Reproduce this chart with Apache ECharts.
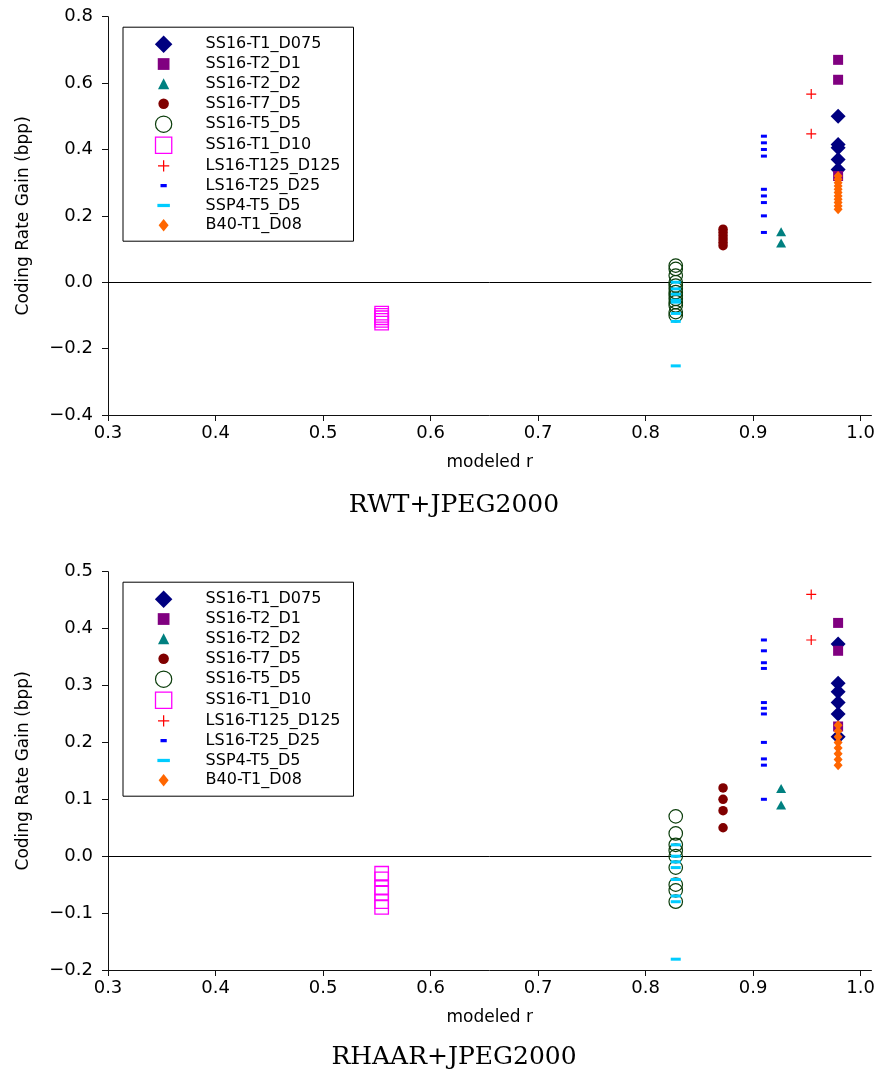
<!DOCTYPE html>
<html>
<head>
<meta charset="utf-8">
<script src="https://cdn.jsdelivr.net/npm/echarts@6/dist/echarts.min.js"></script>
<style>
html,body{margin:0;padding:0;background:#fff;}
#chart{width:878px;height:1073px;}
</style>
</head>
<body>
<div id="chart"></div>
<script>
// ---------- DATA ----------
const seriesNames = ['SS16-T1_D075','SS16-T2_D1','SS16-T2_D2','SS16-T7_D5','SS16-T5_D5',
                     'SS16-T1_D10','LS16-T125_D125','LS16-T25_D25','SSP4-T5_D5','B40-T1_D08'];
// modeled r (x position) of each configuration
const modeledR = [0.979, 0.979, 0.926, 0.872, 0.828, 0.5545, 0.954, 0.910, 0.828, 0.979];

// Coding rate gain, RWT+JPEG2000
const rwt_SS16_T1_D075 = [0.50, 0.415, 0.405, 0.37, 0.34];
const rwt_SS16_T2_D1   = [0.67, 0.61, 0.32];
const rwt_SS16_T2_D2   = [0.152, 0.118];
const rwt_SS16_T7_D5   = [0.16, 0.15, 0.14, 0.13, 0.12, 0.11];
const rwt_SS16_T5_D5   = [0.05, 0.04, 0.02, 0.0, -0.01, -0.02, -0.03, -0.04, -0.05, -0.06, -0.07, -0.09, -0.10];
const rwt_SS16_T1_D10  = [-0.093, -0.100, -0.107, -0.115, -0.123];
const rwt_LS16_T125    = [0.567, 0.447];
const rwt_LS16_T25     = [0.44, 0.42, 0.40, 0.38, 0.28, 0.26, 0.24, 0.20, 0.15];
const rwt_SSP4_T5_D5   = [0.0, -0.02, -0.036, -0.054, -0.06, -0.094, -0.118, -0.252];
const rwt_B40_T1_D08   = [0.32, 0.31, 0.30, 0.29, 0.28, 0.27, 0.26, 0.25, 0.24, 0.23, 0.22];

// Coding rate gain, RHAAR+JPEG2000
const rhaar_SS16_T1_D075 = [0.373, 0.304, 0.289, 0.270, 0.250, 0.210];
const rhaar_SS16_T2_D1   = [0.41, 0.361, 0.228];
const rhaar_SS16_T2_D2   = [0.119, 0.090];
const rhaar_SS16_T7_D5   = [0.12, 0.10, 0.08, 0.05];
const rhaar_SS16_T5_D5   = [0.07, 0.04, 0.02, 0.01, 0.0, -0.02, -0.05, -0.06, -0.08];
const rhaar_SS16_T1_D10  = [-0.03, -0.04, -0.055, -0.065, -0.08, -0.09];
const rhaar_LS16_T125    = [0.46, 0.38];
const rhaar_LS16_T25     = [0.38, 0.361, 0.34, 0.33, 0.27, 0.26, 0.25, 0.20, 0.171, 0.16, 0.10];
const rhaar_SSP4_T5_D5   = [0.02, 0.0, -0.01, -0.02, -0.041, -0.07, -0.08, -0.181];
const rhaar_B40_T1_D08   = [0.23, 0.22, 0.21, 0.20, 0.19, 0.18, 0.17, 0.16];

const xTicks = [0.3, 0.4, 0.5, 0.6, 0.7, 0.8, 0.9, 1.0];
const panelTitles = ['RWT+JPEG2000', 'RHAAR+JPEG2000'];

const rwtSets = [rwt_SS16_T1_D075, rwt_SS16_T2_D1, rwt_SS16_T2_D2, rwt_SS16_T7_D5, rwt_SS16_T5_D5,
                 rwt_SS16_T1_D10, rwt_LS16_T125, rwt_LS16_T25, rwt_SSP4_T5_D5, rwt_B40_T1_D08];
const rhaarSets = [rhaar_SS16_T1_D075, rhaar_SS16_T2_D1, rhaar_SS16_T2_D2, rhaar_SS16_T7_D5, rhaar_SS16_T5_D5,
                   rhaar_SS16_T1_D10, rhaar_LS16_T125, rhaar_LS16_T25, rhaar_SSP4_T5_D5, rhaar_B40_T1_D08];

// ---------- STYLE ----------
const plusPath = 'path://M4.4,0H5.6V4.4H10V5.6H5.6V10H4.4V5.6H0V4.4H4.4Z';
const styles = [
  {color:'#000080', symbol:'diamond', size:15},
  {color:'#800080', symbol:'rect', size:10},
  {color:'#008080', symbol:'triangle', size:[10,9]},
  {color:'#800000', symbol:'circle', size:9.5},
  {color:'#0b3d0b', symbol:'circle', size:13.5, hollow:true, bw:1.2},
  {color:'#ff00ff', symbol:'rect', size:13.5, hollow:true, bw:1.3},
  {color:'#ff0000', symbol:plusPath, size:10},
  {color:'#0000ff', symbol:'rect', size:[6,3]},
  {color:'#00ccff', symbol:'rect', size:[10,3]},
  {color:'#ff6600', symbol:'diamond', size:[9,10]}
];
const B = 'M0,0M15,15';
const legendIcons = [
  'path://'+B+'M7.5,0.5L14.5,7.5L7.5,14.5L0.5,7.5Z',
  'path://'+B+'M2.8,2.8H12.2V12.2H2.8Z',
  'path://'+B+'M7.5,3L12,11.8H3Z',
  'path://'+B+'M3.3,7.5A4.2,4.2,0,1,1,11.7,7.5A4.2,4.2,0,1,1,3.3,7.5Z',
  'path://'+B+'M1,7.5A6.5,6.5,0,1,1,14,7.5A6.5,6.5,0,1,1,1,7.5Z',
  'path://'+B+'M1,1H14V14H1Z',
  'path://'+B+'M7,3H8V7H12V8H8V12H7V8H3V7H7Z',
  'path://'+B+'M5,6.2H10V8.8H5Z',
  'path://'+B+'M2.5,6.2H12.5V8.8H2.5Z',
  'path://'+B+'M7.5,2.5L11.5,7.5L7.5,12.5L3.5,7.5Z'
];

const FONT = 'DejaVu Sans';
const gridTops = [16.7, 571.7];
const gridH = 398.3;
const yRanges = [{min:-0.4, max:0.8, interval:0.2}, {min:-0.2, max:0.5, interval:0.1}];

function fmt(v){ const s = Math.abs(v).toFixed(1); return v < -1e-9 ? '\u2212' + s : s; }

const grids = [], xAxes = [], yAxes = [], series = [], legends = [], titles = [];
for (let g = 0; g < 2; g++) {
  grids.push({left:108, top:gridTops[g], width:763.7, height:gridH, containLabel:false});
  xAxes.push({
    type:'value', gridIndex:g, min:0.3, max:1.01,
    name:'modeled r', nameLocation:'middle', nameGap:39,
    nameTextStyle:{fontFamily:FONT, fontSize:17, color:'#000'},
    axisLine:{onZero:false, lineStyle:{color:'#111', width:1}},
    axisTick:{show:true, inside:false, length:6, customValues:xTicks, lineStyle:{color:'#111'}},
    axisLabel:{customValues:xTicks, margin:9, fontFamily:FONT, fontSize:18, color:'#000',
               formatter:v => v.toFixed(1)},
    splitLine:{show:false}
  });
  yAxes.push({
    type:'value', gridIndex:g, min:yRanges[g].min, max:yRanges[g].max, interval:yRanges[g].interval,
    name:'Coding Rate Gain (bpp)', nameLocation:'middle', nameGap:76,
    nameTextStyle:{fontFamily:FONT, fontSize:17, color:'#000'},
    axisLine:{show:true, onZero:false, lineStyle:{color:'#111', width:1}},
    axisTick:{show:true, inside:false, length:6, lineStyle:{color:'#111'}},
    axisLabel:{margin:15, fontFamily:FONT, fontSize:18, color:'#000', formatter:fmt},
    splitLine:{show:false}
  });
  const sets = g === 0 ? rwtSets : rhaarSets;
  sets.forEach((vals, i) => {
    const st = styles[i];
    const s = {
      name: seriesNames[i], type:'scatter', xAxisIndex:g, yAxisIndex:g,
      symbol: st.symbol, symbolSize: st.size,
      data: vals.map(v => [modeledR[i], v]),
      itemStyle: st.hollow ? {color:'rgba(0,0,0,0)', borderColor:st.color, borderWidth:st.bw, opacity:1}
                           : {color:st.color, borderWidth:0, opacity:1},
      emphasis:{disabled:true}, silent:true
    };
    if (i === 0) {
      s.markLine = {silent:true, symbol:['none','none'], label:{show:false},
                    lineStyle:{color:'#000', width:1, type:'solid', opacity:1}, data:[{yAxis:0}], z:1};
    }
    series.push(s);
  });
  legends.push({
    orient:'vertical', left:123, top:gridTops[g] + 10.5,
    itemWidth:18.75, itemHeight:18.75, itemGap:1.1, padding:[7.6,13,6.5,30.6],
    borderColor:'#000', borderWidth:1, selectedMode:false,
    textStyle:{fontFamily:FONT, fontSize:16, color:'#000', padding:[0,0,0,27.6]},
    data: seriesNames.map((n, i) => ({
      name:n, icon:legendIcons[i],
      itemStyle: styles[i].hollow
        ? {color:'rgba(0,0,0,0)', borderColor:styles[i].color, borderWidth:styles[i].bw, opacity:1}
        : {color:styles[i].color, borderColor:styles[i].color, borderWidth:0, opacity:1}
    }))
  });
  titles.push({
    text: panelTitles[g], left:449, top: g === 0 ? 488 : 1040, textAlign:'center',
    textStyle:{fontFamily:'DejaVu Serif', fontSize:25, fontWeight:'normal', color:'#000'}
  });
}

const chart = echarts.init(document.getElementById('chart'), null, {renderer:'canvas'});
chart.setOption({
  animation:false, backgroundColor:'#fff',
  title: titles, grid: grids, xAxis: xAxes, yAxis: yAxes, legend: legends, series: series
});
</script>
</body>
</html>
